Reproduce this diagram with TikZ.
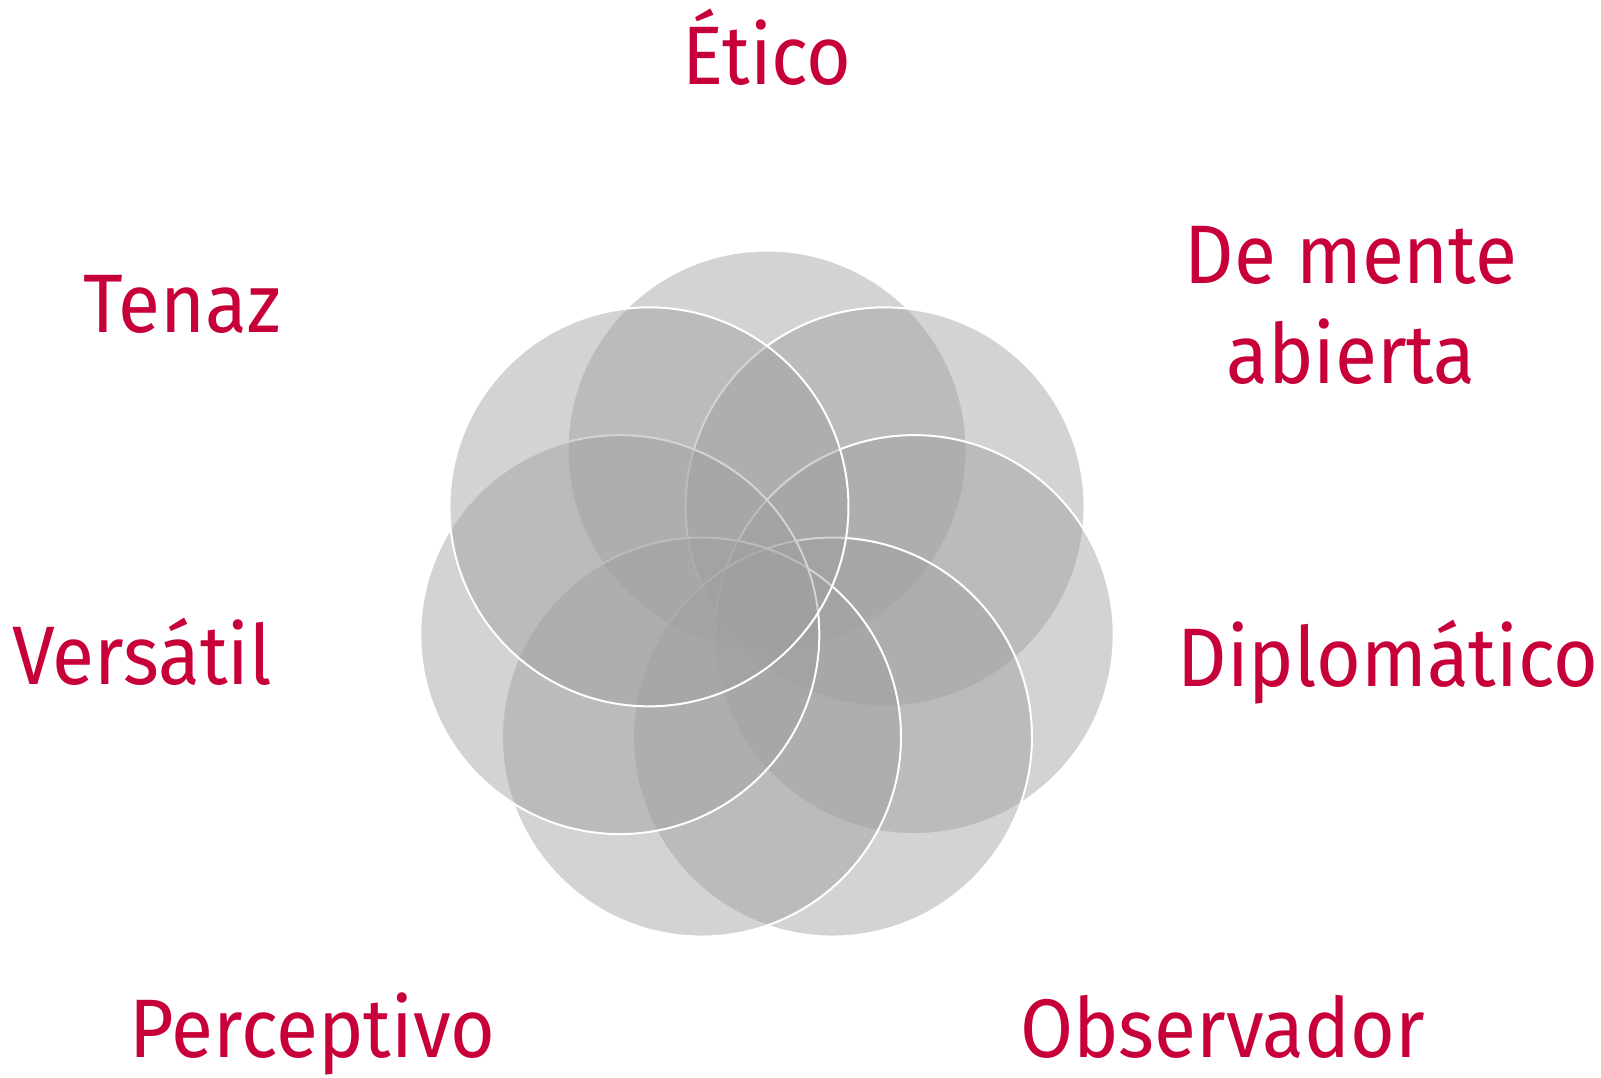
\documentclass[tikz,border=0pt]{standalone}
\usepackage{fontspec}
\setmainfont[FakeStretch=0.925]{Fira Sans}
\definecolor{lbl}{RGB}{199,0,57}
\definecolor{disc}{RGB}{158,158,158}
\begin{document}
\begin{tikzpicture}[x=1pt,y=-1pt,
  petal/.style={circle, minimum size=399pt, inner sep=0pt, outer sep=0pt,
    fill=disc, fill opacity=0.45, draw=white, line width=2pt},
  lab/.style={text=lbl, font=\fontsize{83}{100}\selectfont, inner sep=0pt, anchor=base}]
\useasboundingbox (0,0) rectangle (1601,1078);
% seven overlapping circles, drawn clockwise from the top
\node[petal] (cT)  at (767,450) {};
\node[petal] (cTR) at (885.05,506.85) {};
\node[petal] (cR)  at (914.2,634.6) {};
\node[petal] (cBR) at (832.5,737.05) {};
\node[petal] (cBL) at (701.5,737.05) {};
\node[petal] (cL)  at (619.8,634.6) {};
\node[petal] (cTL) at (648.95,506.85) {};
% labels
\node[lab] (etico) at (767,85) {Ético};
\node[lab] (tenaz) at (182,332) {Tenaz};
\node[lab] (dm1) at (1351,283) {De mente};
\node[lab] (dm2) at (1351,383) {abierta};
\node[lab] (vers) at (142,684) {Versátil};
\node[lab] (dipl) at (1388,686) {Diplomático};
\node[lab] (perc) at (312.5,1057) {Perceptivo};
\node[lab] (obs) at (1222.5,1057) {Observador};
\end{tikzpicture}
\end{document}
